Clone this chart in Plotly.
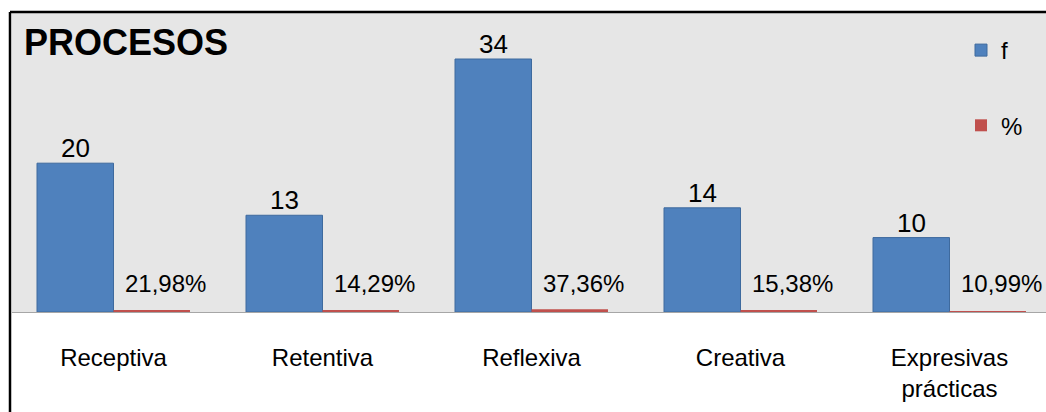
import plotly.graph_objects as go

# Datos del gráfico
categorias = ["Receptiva", "Retentiva", "Reflexiva", "Creativa", "Expresivas<br>prácticas"]
frecuencias = [20, 13, 34, 14, 10]
porcentajes = [0.2198, 0.1429, 0.3736, 0.1538, 0.1099]

AZUL = "#4F81BD"
ROJO = "#C0504D"
FUENTE = "Liberation Sans, Arial, sans-serif"

W, H = 1046, 412
ML, MR, MT, MB = 12, 0, 13, 100
PW, PH = W - ML - MR, H - MT - MB

xs = list(range(len(categorias)))

fig = go.Figure()
fig.add_trace(go.Bar(
    x=xs, y=frecuencias, name="f", legendgroup="f",
    marker=dict(color=AZUL, line=dict(color="#3E6A9E", width=1)),
    cliponaxis=False,
))
fig.add_trace(go.Bar(
    x=xs, y=porcentajes, name="%", legendgroup="p",
    marker=dict(color=ROJO, line=dict(width=0)),
))

# Valores sobre las barras azules
for xi, f in zip(xs, frecuencias):
    fig.add_annotation(
        x=xi, y=f, xref="x", yref="y", text=str(f),
        showarrow=False, xanchor="center", yanchor="bottom",
        xshift=-38, yshift=-2,
        font=dict(family=FUENTE, size=26, color="black"),
    )

# Etiquetas de porcentaje junto a cada barra roja
for xi, p in zip(xs, porcentajes):
    fig.add_annotation(
        x=xi, y=0, xref="x", yref="y",
        text=f"{p * 100:.2f}%".replace(".", ","),
        showarrow=False, xanchor="center", yanchor="middle",
        xshift=52, yshift=29,
        font=dict(family=FUENTE, size=24, color="black"),
    )

# Título
fig.add_annotation(
    x=(22 - ML) / PW, y=1, xref="paper", yref="paper",
    text="<b>PROCESOS</b>", showarrow=False,
    xanchor="left", yanchor="top", yshift=-7,
    font=dict(family=FUENTE, size=36, color="black"),
)

# Marco negro (izquierda y arriba)
bx = (10 - ML) / PW
by = (MT + PH - 12) / PH
fig.add_shape(type="line", xref="paper", yref="paper",
              x0=bx, x1=bx, y0=-(MB + 2) / PH, y1=by,
              line=dict(color="black", width=2.5), layer="above")
fig.add_shape(type="line", xref="paper", yref="paper",
              x0=bx, x1=1.01, y0=by, y1=by,
              line=dict(color="black", width=2.5), layer="above")

slot = 209
r0 = -(113.5 - ML) / slot
r1 = (W - 113.5) / slot

fig.update_layout(
    width=W, height=H,
    margin=dict(l=ML, r=MR, t=MT, b=MB, pad=0),
    paper_bgcolor="white", plot_bgcolor="#E6E6E6",
    barmode="group", bargap=0.268, bargroupgap=0,
    font=dict(family=FUENTE, size=24, color="black"),
    showlegend=True,
    legend=dict(
        x=(961 - ML) / PW, y=(MT + PH - 28) / PH,
        xanchor="left", yanchor="top",
        bgcolor="rgba(0,0,0,0)", tracegroupgap=41,
        traceorder="grouped",
        font=dict(family=FUENTE, size=24, color="black"),
    ),
    xaxis=dict(
        range=[r0, r1], tickmode="array", tickvals=xs, ticktext=categorias,
        showgrid=False, zeroline=False, showline=True,
        linecolor="#A6A6A6", linewidth=1, ticks="",
        ticklabelstandoff=24,
        tickfont=dict(family=FUENTE, size=24, color="black"),
    ),
    yaxis=dict(
        range=[0, PH / (253 / 34)], showgrid=False, zeroline=False,
        showticklabels=False, ticks="", showline=False,
    ),
)

fig.write_html("out.html")
